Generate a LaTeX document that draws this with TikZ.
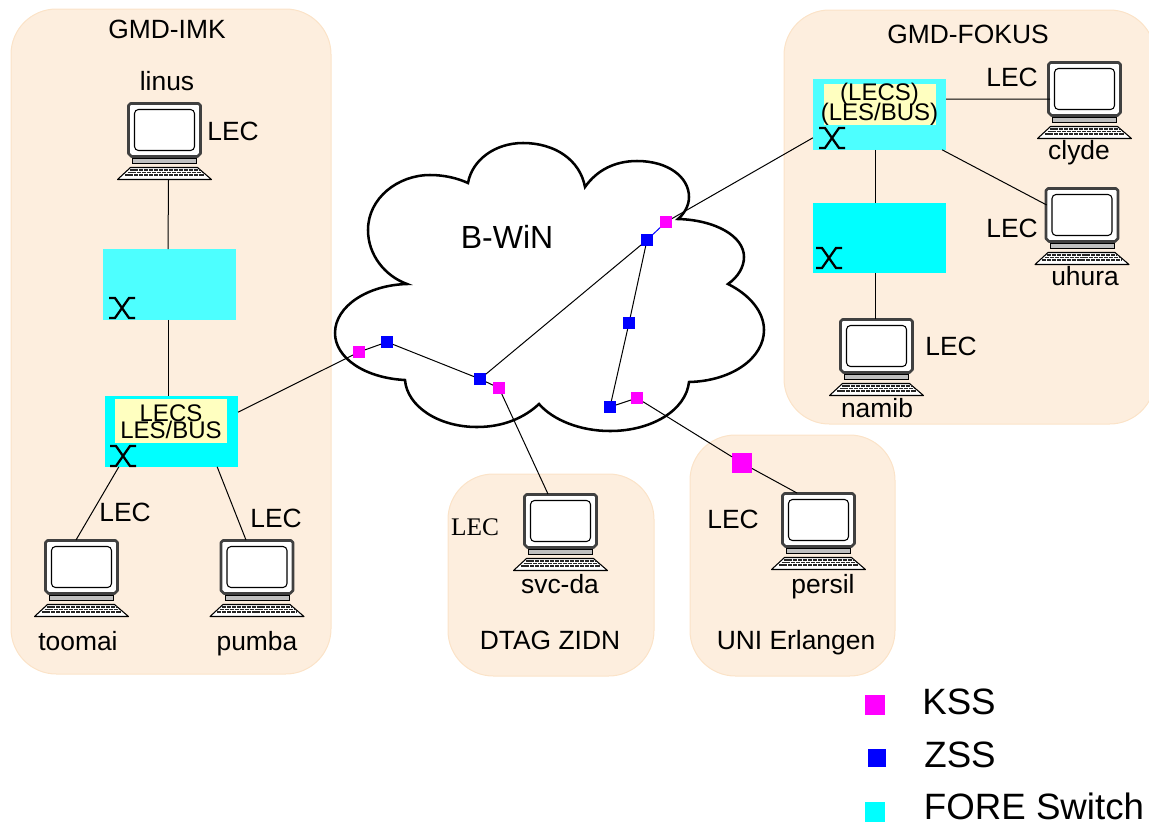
\documentclass[tikz,border=0pt]{standalone}
\usepackage{xcolor}
\usepackage{fontspec}
\setmainfont{Liberation Sans}
\newfontfamily\lecfont{Liberation Serif}
\usepackage{tikz}
\usetikzlibrary{calc}
\usetikzlibrary{positioning}
\definecolor{sitefill}{HTML}{FDEEDE}
\definecolor{siteedge}{HTML}{FBE3C8}
\definecolor{lightcyan}{HTML}{4DFFFF}
\definecolor{purecyan}{HTML}{00FFFF}
\definecolor{puremagenta}{HTML}{FF00FF}
\definecolor{pureblue}{HTML}{0000FF}
\definecolor{labelyellow}{HTML}{FFFFC0}
\tikzstyle{site} = [fill=sitefill, draw=siteedge, line width=0.75pt, rounded corners=34pt]
\tikzstyle{txt} = [anchor=base, inner sep=0pt, text=black, font=\fontsize{19.8}{22}\selectfont]
\tikzstyle{boxtxt} = [anchor=base, inner sep=0pt, text=black, font=\fontsize{18}{20}\selectfont]
\tikzstyle{legendtxt} = [anchor=base, inner sep=0pt, text=black, font=\fontsize{27.5}{30}\selectfont]
\tikzstyle{switchbox} = [rectangle, inner sep=0pt, outer sep=0pt, minimum width=100pt, minimum height=53pt]
\tikzstyle{pcbox} = [rectangle, inner sep=0pt, outer sep=0pt, minimum width=71pt, minimum height=57.75pt]
\tikzstyle{kss} = [rectangle, fill=puremagenta, inner sep=0pt, outer sep=0pt, minimum size=9pt]
\tikzstyle{zss} = [rectangle, fill=pureblue, inner sep=0pt, outer sep=0pt, minimum size=9pt]
\tikzstyle{wire} = [line width=0.75pt, black]
\tikzset{
  computer/.pic={
    \draw [fill=black!25, draw=black, line width=0.5pt] (-32,17) rectangle (32,22);
    \draw [fill=black!25, draw=black, line width=0.5pt] (-18,14) rectangle (18,17);
    \draw [fill=white, draw=black!75, line width=2pt, line join=round] (-34,-38) -- (34,-38) -- (36,-36) -- (36,12) -- (33,15) -- (-33,15) -- (-36,12) -- (-36,-36) -- cycle;
    \draw [fill=white, draw=black, line width=0.8pt, rounded corners=3pt] (-30,-32) rectangle (30,9);
    \draw [fill=white, draw=black, line width=0.8pt, line join=round] (-34,26) -- (33,26) -- (47,38) -- (-47,38) -- cycle;
    \draw [black!85, line width=1.1pt, dash pattern=on 3pt off 0.7pt] (-35,28.5) -- (35,28.5);
    \draw [black!85, line width=1.1pt, dash pattern=on 3pt off 0.7pt] (-37,31) -- (38,31);
    \draw [black!85, line width=1.1pt, dash pattern=on 3pt off 0.7pt] (-40,33.5) -- (39,33.5);
  },
  xmark/.pic={
    \draw [black, line width=1.7pt] (-13,-10) -- (-7,-10) -- (7,10) -- (13,10);
    \draw [black, line width=1.7pt] (-13,10) -- (-7,10) -- (7,-10) -- (13,-10);
  }
}
\newcommand{\pcnode}[3]{
  \node [pcbox] (#1) at (#2,#3) {};
  \pic at (#1) {computer};
}

\begin{document}
\begin{tikzpicture}[x=0.75pt, y=-0.75pt]
\useasboundingbox (0,0) rectangle (1149,822);
\clip (0,0) rectangle (1149,822);
% sites
\draw [site] (11,9) rectangle (331,674);
\draw [site] (784,10) rectangle (1155,424);
\draw [site] (448,474) rectangle (654,676);
\draw [site] (690,435) rectangle (895,676);
% cloud
\draw [line width=1.9pt, fill=white] (407,284) .. controls (385,276) and (368,255) .. (368,230)
  .. controls (368,198) and (398,175) .. (430,175) .. controls (444,175) and (457,178) .. (468,183)
  .. controls (472,160) and (495,143) .. (523,143) .. controls (555,143) and (580,160) .. (585,187)
  .. controls (597,170) and (615,161) .. (637,161) .. controls (668,161) and (689,177) .. (689,197)
  .. controls (689,205) and (685,213) .. (678,219) .. controls (715,220) and (744,236) .. (744,257)
  .. controls (744,267) and (738,277) .. (728,284) .. controls (750,295) and (764,312) .. (764,330)
  .. controls (764,358) and (732,381) .. (689,382) .. controls (686,410) and (652,431) .. (610,431)
  .. controls (580,431) and (553,420) .. (539,404) .. controls (524,418) and (503,427) .. (477,427)
  .. controls (438,427) and (407,406) .. (405,380) .. controls (365,378) and (335,358) .. (335,333)
  .. controls (335,306) and (368,285) .. (407,284) -- cycle;
% switches
\node [switchbox, fill=lightcyan] (swIMK) at (169.5,284.5) {};
\node [switchbox, fill=purecyan] (swLECS) at (171.5,431.5) {};
\node [switchbox, fill=lightcyan] (swFOKUS) at (879.5,114.5) {};
\node [switchbox, fill=purecyan] (swNAMIB) at (879.5,238) {};
\node [rectangle, fill=labelyellow, minimum width=84pt, minimum height=33pt, inner sep=0pt] (yelIMK) at (171,421) {};
\node [rectangle, fill=labelyellow, minimum width=84pt, minimum height=31pt, inner sep=0pt] (yelFOKUS) at (879.5,104.5) {};
\pic at (122,308) {xmark};
\pic at (123,456) {xmark};
\pic at (832,138) {xmark};
\pic at (829,258) {xmark};
% computers
\pcnode{linus}{164.5}{141.5}
\pcnode{toomai}{81.5}{578.5}
\pcnode{pumba}{257}{578.5}
\pcnode{svc}{560.5}{532.5}
\pcnode{persil}{818.5}{531.5}
\pcnode{namib}{876.5}{357.5}
\pcnode{uhura}{1082}{226.5}
\pcnode{clyde}{1084.5}{100.5}
% exchange points
\node [kss] (K1) at (359,352) {};
\node [zss] (Z1) at (387,342) {};
\node [zss] (Z2) at (480,379) {};
\node [kss] (K2) at (499,388) {};
\node [zss] (Z3) at (647,240) {};
\node [kss] (K3) at (666,222) {};
\node [zss] (Z4) at (629,323) {};
\node [zss] (Z5) at (610,407) {};
\node [kss] (K4) at (637,398) {};
\node [kss, minimum size=15pt] (K5) at (742,463) {};
% wires
\draw [wire] ($(linus.south)+(4,0)$) -- ($(swIMK.north)+(-1.5,0)$);
\draw [wire] ($(swIMK.south)+(-1.5,0)$) -- ($(swLECS.north)+(-3.5,0)$);
\draw [wire] ($(swLECS.north east)+(0,16)$) -- (K1);
\draw [wire] (K1) -- (Z1);
\draw [wire] (Z1) -- (Z2);
\draw [wire] (Z2) -- (K2);
\draw [wire] (Z2) -- (Z3);
\draw [pureblue, line width=0.75pt] (Z3) -- (K3);
\draw [wire] (Z3) -- (Z4);
\draw [wire] (Z4) -- (Z5);
\draw [wire] (Z5) -- (K4);
\draw [wire] (K4) -- (K5);
\draw [wire] (K5) -- ($(persil.north)+(-21.5,0)$);
\draw [wire] (K2) -- ($(svc.north)+(-12.5,0)$);
\draw [wire] (K3) -- ($(swFOKUS.south west)+(0,-12)$);
\draw [wire] ($(swLECS.south west)+(14,0)$) -- ($(toomai.north)+(-5.5,0)$);
\draw [wire] ($(swLECS.south east)+(-21,0)$) -- ($(pumba.north)+(-11,0)$);
\draw [wire] ($(swFOKUS.north east)+(0,20)$) -- ($(clyde.north west)+(13,37)$);
\draw [wire] ($(swFOKUS.south east)+(-4,0)$) -- ($(uhura.north west)+(12,17)$);
\draw [wire] ($(swFOKUS.south)+(-4.5,0)$) -- ($(swNAMIB.north)+(-4.5,0)$);
\draw [wire] ($(swNAMIB.south)+(-4.5,0)$) -- ($(namib.north)+(-1.5,0)$);
% texts
\node [txt] (tIMK) at (167,38) {GMD-IMK};
\node [txt] (tlinus) at (167,90) {linus};
\node [txt] (tlec1) at (233,140) {LEC};
\node [boxtxt] (tlecs) at (171,421) {LECS};
\node [boxtxt] (tles) at (171,438) {LES/BUS};
\node [txt] (tlec2) at (125,521) {LEC};
\node [txt] (tlec3) at (276,527) {LEC};
\node [txt] (ttoomai) at (78,650) {toomai};
\node [txt] (tpumba) at (257,650) {pumba};
\node [txt, font=\lecfont\fontsize{19}{22}\selectfont] (tlec4) at (475,535) {LEC};
\node [txt] (tsvc) at (560,593) {svc-da};
\node [txt] (tDTAG) at (550,649) {DTAG ZIDN};
\node [txt] (tlec5) at (733,528) {LEC};
\node [txt] (tpersil) at (823,593) {persil};
\node [txt] (tUNI) at (796,649) {UNI Erlangen};
\node [txt, font=\fontsize{24}{26}\selectfont] (tBWIN) at (507,248) {B-WiN};
\node [txt] (tFOKUS) at (968,43) {GMD-FOKUS};
\node [boxtxt] (tplecs) at (879.5,100) {(LECS)};
\node [boxtxt] (tples) at (879.5,120) {(LES/BUS)};
\node [txt] (tlec6) at (1012,86) {LEC};
\node [txt] (tclyde) at (1079,159) {clyde};
\node [txt] (tlec7) at (1012,237) {LEC};
\node [txt] (tuhura) at (1085,285) {uhura};
\node [txt] (tlec8) at (951,355) {LEC};
\node [txt] (tnamib) at (877,417) {namib};
% legend
\node [kss, minimum size=15pt] (legK) at (875,705) {};
\node [zss, minimum size=14pt] (legZ) at (877,758) {};
\node [rectangle, fill=purecyan, inner sep=0pt, minimum size=15pt] (legS) at (875,812) {};
\node [legendtxt] (tKSS) at (959,714) {KSS};
\node [legendtxt] (tZSS) at (960,767) {ZSS};
\node [legendtxt] (tSwitch) at (1034,819) {FORE Switch};
\end{tikzpicture}
\end{document}
